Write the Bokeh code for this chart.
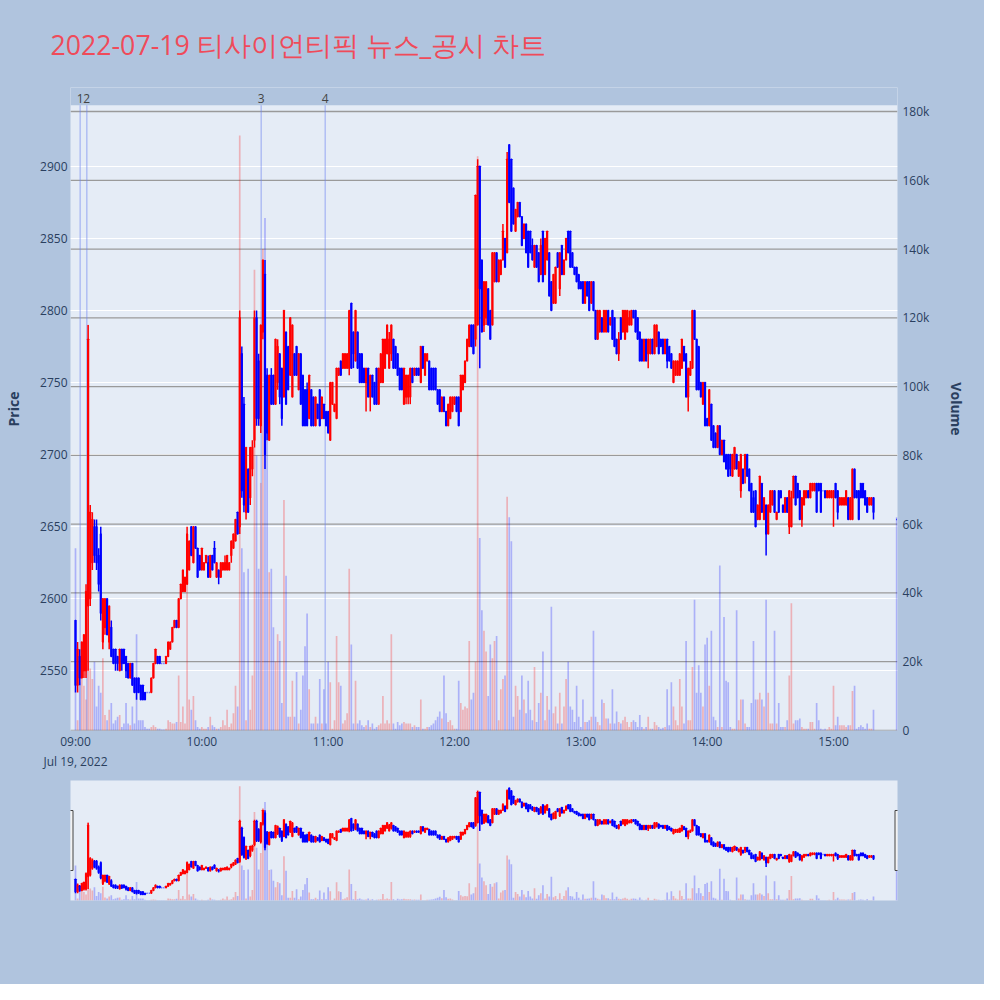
import pandas as pd
from bokeh.plotting import figure
from bokeh.layouts import column
from bokeh.models import (Range1d, LinearAxis, DatetimeAxis, FixedTicker, NumeralTickFormatter,
                          DatetimeTickFormatter, ColumnDataSource, BoxAnnotation)
from bokeh.core.properties import value
from bokeh.embed import file_html
from bokeh.resources import INLINE

TITLE = "2022-07-19 티사이언티픽 뉴스_공시 차트"
SESSION_DATE = "2022-07-19"

# minute offsets from 09:00 (last one is the 15:30 closing auction)
minute_offsets = list(range(380)) + [390]

opens = [
    2585,2540,2560,2545,2550,2550,2595,2600,2625,2650,
    2650,2630,2645,2570,2580,2600,2570,2580,2565,2565,
    2560,2550,2565,2565,2560,2555,2545,2555,2545,2545,
    2545,2540,2540,2535,2535,2535,2535,2545,2555,2560,
    2560,2555,2555,2555,2560,2565,2570,2580,2585,2580,
    2600,2605,2605,2610,2620,2650,2625,2650,2635,2630,
    2620,2620,2625,2625,2615,2630,2635,2615,2620,2615,
    2620,2620,2620,2620,2630,2635,2640,2660,2650,2770,
    2735,2660,2690,2670,2690,2710,2795,2765,2720,2785,
    2825,2755,2710,2755,2755,2735,2750,2770,2760,2740,
    2785,2775,2755,2740,2770,2775,2745,2770,2755,2745,
    2745,2725,2745,2740,2720,2735,2745,2725,2735,2730,
    2730,2710,2735,2730,2725,2755,2765,2760,2760,2760,
    2760,2805,2785,2765,2785,2770,2770,2760,2750,2760,
    2740,2755,2750,2760,2735,2750,2750,2760,2770,2760,
    2770,2780,2775,2770,2760,2760,2735,2740,2740,2740,
    2760,2755,2760,2760,2750,2775,2755,2765,2765,2760,
    2760,2760,2745,2745,2730,2740,2730,2720,2725,2730,
    2735,2740,2740,2730,2745,2750,2765,2775,2790,2790,
    2780,2790,2900,2835,2790,2795,2815,2800,2790,2820,
    2840,2820,2825,2835,2850,2840,2915,2905,2885,2855,
    2865,2875,2865,2850,2860,2855,2855,2845,2830,2845,
    2840,2825,2855,2825,2835,2840,2820,2805,2805,2840,
    2815,2845,2825,2835,2855,2855,2840,2830,2830,2825,
    2820,2820,2805,2820,2820,2805,2820,2800,2780,2785,
    2795,2785,2785,2800,2790,2800,2795,2780,2770,2795,
    2785,2780,2785,2790,2790,2800,2800,2795,2785,2780,
    2765,2780,2770,2770,2780,2770,2775,2785,2780,2780,
    2770,2780,2775,2770,2750,2755,2755,2755,2760,2775,
    2770,2740,2755,2760,2800,2780,2775,2750,2735,2750,
    2725,2720,2735,2720,2715,2705,2720,2700,2710,2700,
    2700,2700,2685,2690,2700,2685,2675,2690,2690,2700,
    2690,2680,2670,2675,2655,2655,2680,2655,2665,2645,
    2660,2665,2675,2655,2675,2675,2665,2660,2670,2650,
    2650,2670,2685,2680,2675,2655,2665,2670,2675,2670,
    2675,2675,2680,2680,2680,2675,2675,2670,2670,2670,
    2670,2680,2675,2665,2665,2665,2665,2670,2655,2655,
    2690,2675,2675,2680,2680,2675,2670,2665,2665,2670,
    2655,
]
highs = [
    2585,2570,2565,2570,2575,2610,2790,2665,2660,2655,
    2655,2635,2650,2600,2600,2600,2595,2585,2565,2565,
    2560,2565,2565,2565,2560,2555,2555,2555,2545,2545,
    2545,2540,2540,2535,2535,2535,2545,2555,2565,2560,
    2560,2555,2555,2560,2570,2570,2580,2585,2585,2600,
    2610,2620,2615,2650,2640,2650,2650,2650,2635,2630,
    2635,2625,2630,2630,2630,2630,2640,2625,2620,2625,
    2625,2630,2630,2625,2640,2645,2655,2660,2800,2775,
    2740,2705,2690,2705,2710,2800,2800,2770,2790,2835,
    2835,2760,2755,2760,2755,2780,2780,2770,2760,2800,
    2785,2775,2795,2790,2770,2775,2770,2770,2755,2745,
    2750,2755,2745,2740,2740,2735,2745,2740,2735,2730,
    2730,2750,2750,2735,2760,2760,2765,2770,2770,2770,
    2800,2805,2785,2800,2785,2770,2770,2760,2760,2760,
    2755,2755,2750,2760,2760,2770,2780,2780,2790,2785,
    2790,2780,2775,2770,2760,2760,2760,2755,2755,2760,
    2760,2760,2760,2760,2775,2775,2770,2770,2765,2760,
    2760,2760,2745,2745,2740,2740,2730,2735,2740,2740,
    2740,2740,2740,2755,2755,2765,2780,2790,2790,2790,
    2880,2905,2900,2835,2820,2820,2815,2800,2840,2840,
    2840,2835,2835,2860,2850,2910,2915,2905,2885,2870,
    2875,2875,2865,2860,2860,2855,2855,2850,2845,2845,
    2840,2850,2855,2850,2855,2840,2820,2825,2830,2840,
    2840,2845,2835,2850,2855,2855,2840,2830,2830,2825,
    2820,2820,2820,2820,2820,2820,2820,2800,2800,2800,
    2795,2800,2800,2800,2795,2800,2795,2780,2785,2795,
    2800,2800,2800,2800,2800,2800,2800,2795,2785,2780,
    2780,2780,2780,2780,2780,2790,2790,2785,2780,2780,
    2780,2780,2775,2770,2765,2765,2765,2770,2780,2775,
    2770,2760,2765,2800,2800,2780,2775,2750,2750,2750,
    2725,2745,2735,2720,2715,2720,2720,2710,2710,2700,
    2700,2700,2700,2705,2700,2695,2700,2690,2700,2700,
    2690,2680,2675,2675,2665,2685,2680,2670,2665,2665,
    2675,2675,2675,2660,2675,2675,2665,2670,2670,2675,
    2675,2685,2685,2680,2675,2670,2675,2675,2675,2680,
    2680,2680,2680,2680,2680,2675,2675,2675,2675,2675,
    2675,2680,2675,2670,2670,2670,2675,2670,2670,2690,
    2690,2675,2675,2680,2680,2675,2670,2670,2670,2670,
    2655,
]
lows = [
    2535,2535,2540,2545,2545,2545,2550,2595,2620,2625,
    2620,2605,2585,2565,2575,2575,2565,2560,2555,2550,
    2550,2550,2550,2555,2545,2545,2545,2540,2535,2530,
    2535,2530,2530,2530,2535,2535,2535,2545,2555,2555,
    2555,2555,2555,2555,2560,2565,2570,2580,2580,2580,
    2600,2605,2605,2610,2620,2630,2625,2635,2615,2620,
    2620,2620,2625,2615,2615,2620,2625,2615,2610,2615,
    2620,2620,2620,2620,2625,2635,2640,2645,2645,2670,
    2660,2655,2660,2665,2685,2705,2720,2720,2715,2780,
    2690,2710,2710,2735,2735,2735,2745,2735,2720,2740,
    2735,2745,2755,2740,2755,2755,2745,2735,2720,2720,
    2720,2725,2720,2720,2720,2725,2720,2725,2725,2720,
    2715,2710,2735,2730,2725,2755,2755,2760,2760,2760,
    2755,2760,2760,2765,2760,2750,2750,2750,2730,2740,
    2730,2740,2735,2735,2735,2750,2750,2760,2770,2760,
    2765,2760,2760,2755,2745,2745,2735,2735,2735,2735,
    2750,2755,2755,2755,2750,2760,2755,2765,2745,2745,
    2745,2745,2735,2730,2730,2730,2720,2720,2725,2730,
    2735,2730,2720,2730,2745,2750,2765,2775,2775,2770,
    2775,2790,2760,2785,2785,2790,2790,2780,2790,2820,
    2820,2820,2825,2835,2830,2840,2875,2855,2860,2855,
    2865,2865,2845,2850,2840,2830,2840,2835,2830,2830,
    2820,2825,2820,2825,2835,2810,2800,2805,2805,2830,
    2810,2825,2825,2835,2840,2830,2830,2825,2820,2815,
    2815,2805,2805,2810,2800,2805,2800,2780,2780,2785,
    2785,2785,2785,2785,2790,2780,2775,2770,2765,2780,
    2785,2780,2785,2790,2790,2795,2785,2780,2765,2765,
    2765,2765,2760,2770,2770,2770,2775,2770,2775,2770,
    2770,2760,2765,2760,2750,2755,2755,2755,2760,2765,
    2740,2730,2755,2760,2780,2745,2745,2740,2735,2720,
    2720,2720,2710,2705,2705,2705,2700,2700,2695,2690,
    2685,2685,2685,2690,2690,2685,2670,2680,2680,2685,
    2675,2660,2660,2650,2655,2655,2660,2655,2630,2645,
    2660,2665,2660,2655,2660,2670,2660,2660,2660,2645,
    2650,2670,2665,2670,2655,2650,2665,2670,2670,2670,
    2675,2675,2660,2675,2660,2675,2670,2670,2670,2670,
    2650,2670,2655,2665,2665,2665,2665,2655,2655,2655,
    2670,2670,2655,2670,2670,2665,2660,2665,2665,2655,
    2655,
]
closes = [
    2540,2565,2545,2570,2575,2605,2780,2660,2655,2630,
    2625,2610,2590,2600,2600,2575,2595,2560,2555,2555,
    2555,2565,2555,2555,2550,2545,2555,2540,2535,2535,
    2535,2530,2530,2530,2535,2535,2545,2555,2565,2555,
    2555,2555,2555,2560,2570,2570,2580,2585,2580,2600,
    2610,2620,2615,2645,2640,2630,2650,2635,2615,2620,
    2635,2625,2630,2615,2630,2620,2625,2625,2615,2625,
    2625,2625,2630,2625,2640,2645,2655,2645,2795,2675,
    2665,2705,2660,2705,2705,2795,2725,2725,2790,2835,
    2700,2715,2755,2735,2735,2780,2775,2740,2725,2800,
    2735,2745,2795,2790,2755,2755,2770,2735,2720,2720,
    2720,2755,2720,2720,2740,2725,2720,2740,2725,2720,
    2715,2750,2750,2735,2760,2760,2755,2770,2770,2770,
    2800,2760,2770,2800,2760,2750,2750,2750,2760,2740,
    2755,2740,2735,2735,2760,2770,2780,2780,2790,2780,
    2790,2760,2760,2755,2745,2745,2760,2755,2755,2760,
    2750,2760,2755,2755,2775,2760,2770,2770,2745,2745,
    2745,2745,2735,2730,2740,2730,2720,2735,2740,2740,
    2740,2730,2720,2755,2755,2765,2780,2790,2775,2770,
    2880,2900,2815,2785,2820,2820,2790,2780,2840,2840,
    2820,2835,2835,2855,2830,2905,2875,2855,2860,2870,
    2875,2865,2845,2860,2840,2830,2840,2835,2845,2830,
    2820,2845,2820,2850,2855,2810,2800,2825,2830,2830,
    2840,2825,2835,2850,2840,2830,2830,2825,2820,2815,
    2815,2805,2820,2810,2800,2820,2800,2780,2800,2800,
    2785,2800,2800,2785,2795,2780,2775,2770,2780,2780,
    2800,2800,2800,2795,2800,2795,2785,2780,2765,2765,
    2780,2765,2780,2780,2770,2790,2790,2770,2775,2770,
    2780,2765,2765,2760,2765,2765,2765,2770,2780,2765,
    2740,2760,2760,2800,2780,2745,2745,2740,2750,2720,
    2720,2745,2710,2705,2705,2720,2700,2710,2695,2690,
    2685,2690,2700,2705,2690,2695,2700,2680,2700,2685,
    2675,2660,2660,2650,2665,2685,2660,2670,2645,2665,
    2675,2675,2660,2660,2660,2670,2660,2670,2660,2675,
    2670,2685,2665,2670,2655,2670,2675,2675,2670,2680,
    2680,2680,2660,2675,2660,2675,2670,2675,2675,2675,
    2675,2670,2660,2670,2670,2670,2675,2655,2670,2690,
    2670,2670,2655,2670,2670,2665,2660,2670,2670,2660,
    2655,
]
volumes = [
    53000,3000,14000,15000,13000,9000,118000,18000,15000,20000,
    7000,13000,11000,21000,4500,3000,6000,8000,2000,3000,
    4000,4500,1000,2000,8000,2000,1500,7000,2000,28000,
    3000,3000,3000,1000,500,500,1000,1500,1000,500,
    500,300,300,500,3000,2500,2000,2000,2500,16000,
    2500,7000,2000,55000,9000,6000,10000,3000,1000,500,
    1000,500,500,1000,4000,1500,1000,500,500,1000,
    3000,1500,6000,1000,2000,5000,13000,7000,173000,53000,
    46000,3000,47000,6000,16000,134000,80000,47000,72000,140000,
    149000,95000,46000,47000,30000,20000,28000,26000,8000,67000,
    45000,4000,4000,14500,4000,17000,2000,6000,16000,24500,
    34000,12000,2000,2000,4000,2000,15000,2000,12000,2000,
    20000,14000,500,3000,27500,14000,13000,2000,3000,5000,
    47000,25000,2000,14500,2000,3000,1500,1000,1500,3000,
    1000,2000,500,1000,1500,2000,10000,2000,3000,2000,
    28000,2000,500,2500,1500,2000,2500,2000,2000,2000,
    1000,1500,1000,1000,9000,500,500,1000,1000,1500,
    2000,3000,4000,5500,3500,16000,5000,2500,3000,1500,
    500,500,14500,8000,6000,7000,6500,26000,9000,11000,
    20000,167000,56000,35000,29000,23000,10000,25000,21000,26000,
    27500,3000,12000,15000,16000,68000,62000,55000,4000,13000,
    10000,6000,16000,9000,5000,14500,6000,3000,18500,2500,
    8000,11000,23000,3000,10000,6000,36000,5000,7000,2000,
    11000,2000,7000,15000,20000,7000,6000,2500,13000,4000,
    1000,9000,2500,2500,3000,4000,29000,4000,2500,1500,
    9000,8000,3500,3500,2000,12000,2000,5500,2500,2000,
    3000,4000,2500,1000,2500,3000,2500,1000,4500,1000,
    500,1000,4000,500,500,2500,1500,1000,500,800,
    1000,12000,1500,14000,7000,3000,1500,15000,7000,2000,
    26000,3000,3000,18500,38000,11000,19000,11000,7000,25000,
    27000,13000,29000,4000,3000,1000,48000,1000,33000,14500,
    14000,1000,500,500,35000,3000,9000,9000,2000,1000,
    1000,8000,26000,9000,9000,11000,9000,7000,38000,11000,
    2000,2000,29000,2000,8000,1000,1000,1000,3000,16000,
    37000,2000,3000,3000,3500,1000,500,500,500,2500,
    2500,500,8000,3000,500,300,500,300,1000,500,
    13000,1500,4000,1500,1500,1500,1000,1500,1500,11500,
    13000,500,1000,1500,1000,500,2000,500,500,6000,
    62000,
]

news_labels = ["1", "2", "3", "4"]
news_times = ["09:02:13", "09:05:22", "10:28:12", "10:58:36"]
price_ticks = [2550, 2600, 2650, 2700, 2750, 2800, 2850, 2900]
volume_ticks = [0, 20000, 40000, 60000, 80000, 100000, 120000, 140000, 160000, 180000]
hour_ticks = ["09:00", "10:00", "11:00", "12:00", "13:00", "14:00", "15:00"]

PRICE_RANGE = (2508.6, 2942.3)      # visible plot area
VOLUME_RANGE = (0, 181700)
PRICE_FRAME_TOP = 2954.7            # frame extends up into the news-label band
VOLUME_FRAME_TOP = 186980
X_RANGE_MIN = (-2.375, 390.4)

BG = "#B0C4DE"
PLOT_BG = "#E5ECF6"
UP = "#FF0000"
DOWN = "#0000FF"
FONT = "Open Sans"
TEXT = "#2a3f5f"
W = 984
FL, FR = 70, 87          # left / right borders around the plot frame

t0 = pd.Timestamp(f"{SESSION_DATE} 09:00")


def ms(ts):
    return ts.value / 1e6


times = [ms(t0 + pd.Timedelta(minutes=m)) for m in minute_offsets]
colors = [UP if c > o else DOWN for o, c in zip(opens, closes)]
src = ColumnDataSource(dict(
    t=times, o=opens, h=highs, l=lows, c=closes, v=volumes,
    top=[max(o, c) for o, c in zip(opens, closes)],
    bot=[min(o, c) for o, c in zip(opens, closes)],
    color=colors,
))

x0 = ms(t0 + pd.Timedelta(minutes=X_RANGE_MIN[0]))
x1 = ms(t0 + pd.Timedelta(minutes=X_RANGE_MIN[1]))
news_ms = [ms(pd.Timestamp(f"{SESSION_DATE} {t}")) for t in news_times]
hour_ms = [ms(pd.Timestamp(f"{SESSION_DATE} {h}")) for h in hour_ticks]


def dt_fmt(fmt):
    return DatetimeTickFormatter(microseconds=fmt, milliseconds=fmt, seconds=fmt, minsec=fmt,
                                 minutes=fmt, hourmin=fmt, hours=fmt, days=fmt, months=fmt,
                                 years=fmt)


# ---------------- main chart (with title) ----------------
MH = 778
p = figure(width=W, height=MH, title=TITLE, x_axis_type="datetime",
           x_range=Range1d(x0, x1), y_range=Range1d(PRICE_RANGE[0], PRICE_FRAME_TOP),
           output_backend="svg", toolbar_location=None,
           min_border_left=FL, min_border_right=FR, min_border_top=85, min_border_bottom=48,
           background_fill_color=PLOT_BG, border_fill_color=BG, outline_line_color=None)
p.title.align = "left"
p.title.vertical_align = "middle"
p.title.offset = -20
p.title.standoff = 48
p.title.text_font = FONT
p.title.text_font_size = "26.7px"
p.title.text_font_style = "normal"
p.title.text_color = "#EF4B5A"

p.extra_y_ranges = {"vol": Range1d(VOLUME_RANGE[0], VOLUME_FRAME_TOP)}

# band above the plot area that holds the news labels
p.add_layout(BoxAnnotation(bottom=PRICE_RANGE[1], fill_color=BG, fill_alpha=1.0,
                           line_color=None, level="underlay"))

p.xgrid.visible = False
p.ygrid.grid_line_color = "white"
p.ygrid.grid_line_width = 1
p.ygrid.ticker = FixedTicker(ticks=price_ticks)

p.segment(x0=[x0] * len(volume_ticks), x1=[x1] * len(volume_ticks), y0=volume_ticks,
          y1=volume_ticks, y_range_name="vol", line_color="#9a9a9a", line_width=1.3)

p.vbar(x="t", top="v", bottom=0, width=48000, source=src, y_range_name="vol",
       fill_color="color", fill_alpha=0.25, line_color=None)

n = len(news_ms)
p.segment(x0=news_ms, x1=news_ms, y0=[PRICE_RANGE[0]] * n, y1=[PRICE_RANGE[1]] * n,
          line_color="#6E86F0", line_alpha=0.45, line_width=1.5)
p.text(x=news_ms, y=[PRICE_RANGE[1] + 1.4] * n, text=news_labels, text_font=value(FONT),
       text_font_size="12px", text_color="#444444", text_align="center",
       text_baseline="bottom")

p.segment(x0="t", y0="l", x1="t", y1="h", source=src, line_color="color", line_width=1.5)
p.vbar(x="t", top="top", bottom="bot", width=20000, source=src,
       fill_color="color", line_color="color", line_width=1.5)

p.xaxis.ticker = FixedTicker(ticks=hour_ms)
p.xaxis.formatter = dt_fmt("%H:%M")
date_axis = DatetimeAxis(ticker=FixedTicker(ticks=hour_ms[:1]), formatter=dt_fmt("%b %d, %Y"))
p.add_layout(date_axis, "below")

p.yaxis.ticker = FixedTicker(ticks=price_ticks)
p.yaxis.axis_label = "Price"

vol_axis = LinearAxis(y_range_name="vol", ticker=FixedTicker(ticks=volume_ticks),
                      formatter=NumeralTickFormatter(format="0a"), axis_label="Volume")
p.add_layout(vol_axis, "right")

for ax in p.axis:
    ax.axis_line_color = None
    ax.major_tick_line_color = None
    ax.minor_tick_line_color = None
    ax.major_tick_out = 0
    ax.major_tick_in = 0
    ax.minor_tick_out = 0
    ax.minor_tick_in = 0
    ax.major_label_text_font = FONT
    ax.major_label_text_font_size = "12px"
    ax.major_label_text_color = TEXT
    ax.axis_label_text_font = FONT
    ax.axis_label_text_font_size = "14px"
    ax.axis_label_text_font_style = "bold"
    ax.axis_label_text_color = TEXT
p.xaxis.major_label_standoff = 2
date_axis.major_label_standoff = 0
p.yaxis.major_label_standoff = 3
p.yaxis.axis_label_standoff = 14
vol_axis.major_label_standoff = 5
vol_axis.axis_label_standoff = 15

# ---------------- range slider ----------------
SH = W - MH
sf = figure(width=W, height=SH, title=None, x_axis_type="datetime",
            x_range=Range1d(x0, x1), y_range=Range1d(*PRICE_RANGE),
            output_backend="svg", toolbar_location=None,
            x_axis_location=None, y_axis_location=None,
            min_border_left=FL, min_border_right=FR, min_border_top=2,
            min_border_bottom=SH - 2 - 120,
            background_fill_color=PLOT_BG, border_fill_color=BG, outline_line_color=None)
sf.grid.visible = False
sf.extra_y_ranges = {"vol": Range1d(*VOLUME_RANGE)}
sf.vbar(x="t", top="v", bottom=0, width=48000, source=src, y_range_name="vol",
        fill_color="color", fill_alpha=0.25, line_color=None)
sf.segment(x0="t", y0="l", x1="t", y1="h", source=src, line_color="color", line_width=1.5)
sf.vbar(x="t", top="top", bottom="bot", width=20000, source=src,
        fill_color="color", line_color="color", line_width=1.5)
mid = (PRICE_RANGE[0] + PRICE_RANGE[1]) / 2
sf.rect(x=[x0, x1], y=[mid, mid], width=5, height=60, width_units="screen",
        height_units="screen", fill_color="#f2f2f2", line_color="#444444", line_width=1)

layout = column(p, sf, styles={"background-color": BG})
open("out.html", "w").write(file_html(layout, INLINE))
